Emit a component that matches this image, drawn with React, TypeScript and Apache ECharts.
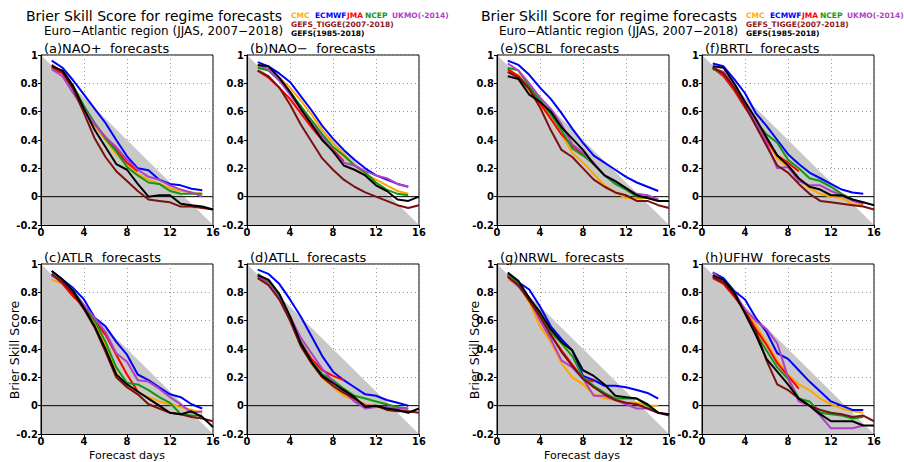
import React, { useEffect, useRef } from "react";
import * as echarts from "echarts";

const DAYS = [1, 2, 3, 4, 5, 6, 7, 8, 9, 10, 11, 12, 13, 14, 15, 16];
const X_TICKS = [0, 4, 8, 12, 16];
const Y_TICKS = [-0.2, 0, 0.2, 0.4, 0.6, 0.8, 1];
const MODELS = ["CMC", "ECMWF", "JMA", "NCEP", "UKMO(-2014)", "GEFS_TIGGE(2007-2018)", "GEFS(1985-2018)"];
const PANEL_TITLES = ["(a)NAO+  forecasts", "(b)NAO\u2212  forecasts", "(c)ATLR  forecasts", "(d)ATLL  forecasts", "(e)SCBL  forecasts", "(f)BRTL  forecasts", "(g)NRWL  forecasts", "(h)UFHW  forecasts"];
const MAIN_TITLE = "Brier Skill Score for regime forecasts";
const SUB_TITLE = "Euro\u2212Atlantic region (JJAS, 2007\u22122018)";
const Y_NAME = "Brier Skill Score";
const X_NAME = "Forecast days";

// (a) NAO+
const a_CMC = [0.92, 0.89, 0.77, 0.63, 0.50, 0.40, 0.30, 0.22, 0.16, 0.12, 0.09, 0.06, 0.04, 0.03, 0.02];
const a_ECMWF = [0.96, 0.91, 0.82, 0.72, 0.62, 0.52, 0.40, 0.285, 0.20, 0.186, 0.12, 0.09, 0.08, 0.056, 0.045];
const a_JMA = [0.91, 0.87, 0.76, 0.63, 0.51, 0.42, 0.33, 0.24, 0.18];
const a_NCEP = [0.92, 0.89, 0.78, 0.64, 0.52, 0.41, 0.32, 0.21, 0.15, 0.10, 0.09, 0.04, 0.02, 0.02, 0.02];
const a_UKMO = [0.90, 0.85, 0.73, 0.62, 0.51, 0.42, 0.35, 0.26, 0.19, 0.14, 0.12, 0.08, 0.05, 0.03, 0.00];
const a_TIGGE = [0.93, 0.88, 0.76, 0.59, 0.41, 0.28, 0.18, 0.11, 0.04, -0.02, -0.03, -0.04, -0.07, -0.07, -0.08, -0.09];
const a_GEFS = [0.92, 0.89, 0.78, 0.62, 0.47, 0.35, 0.23, 0.19, 0.09, 0.00, 0.01, 0.01, -0.05, -0.06, -0.07, -0.09];

// (b) NAO-
const b_CMC = [0.92, 0.90, 0.84, 0.77, 0.68, 0.58, 0.47, 0.38, 0.30, 0.22, 0.16, 0.12, 0.08, 0.04, 0.02];
const b_ECMWF = [0.95, 0.92, 0.87, 0.81, 0.71, 0.61, 0.50, 0.41, 0.33, 0.26, 0.20, 0.15, 0.12, 0.09, 0.07];
const b_JMA = [0.89, 0.84, 0.77, 0.69, 0.59, 0.49, 0.40, 0.33, 0.25];
const b_NCEP = [0.91, 0.89, 0.82, 0.74, 0.64, 0.54, 0.44, 0.35, 0.29, 0.22, 0.17, 0.10, 0.05, 0.02, 0.01];
const b_UKMO = [0.93, 0.90, 0.82, 0.72, 0.62, 0.52, 0.42, 0.32, 0.24, 0.22, 0.18, 0.15, 0.13, 0.09, 0.07];
const b_TIGGE = [0.89, 0.85, 0.77, 0.65, 0.51, 0.39, 0.27, 0.19, 0.12, 0.07, 0.03, 0.00, -0.03, -0.06, -0.08, -0.06];
const b_GEFS = [0.93, 0.92, 0.84, 0.74, 0.62, 0.51, 0.40, 0.32, 0.22, 0.19, 0.15, 0.08, 0.04, -0.02, -0.03, 0.00];

// (c) ATLR
const c_CMC = [0.89, 0.86, 0.79, 0.70, 0.59, 0.43, 0.23, 0.13, 0.09, 0.06, 0.03, 0.01, -0.01, -0.03, -0.05];
const c_ECMWF = [0.95, 0.89, 0.83, 0.75, 0.62, 0.56, 0.45, 0.36, 0.22, 0.18, 0.13, 0.08, 0.06, 0.01, -0.02];
const c_JMA = [0.93, 0.86, 0.77, 0.70, 0.60, 0.50, 0.36, 0.22, 0.10];
const c_NCEP = [0.92, 0.88, 0.81, 0.71, 0.60, 0.45, 0.27, 0.16, 0.15, 0.11, 0.06, 0.02, -0.06, -0.07, -0.07];
const c_UKMO = [0.92, 0.87, 0.80, 0.71, 0.62, 0.52, 0.37, 0.31, 0.18, 0.17, 0.12, 0.06, 0.01, -0.05, -0.04];
const c_TIGGE = [0.93, 0.87, 0.79, 0.68, 0.55, 0.38, 0.20, 0.13, 0.08, 0.01, -0.02, -0.05, -0.06, -0.08, -0.09, -0.11];
const c_GEFS = [0.95, 0.89, 0.81, 0.69, 0.56, 0.40, 0.22, 0.15, 0.10, 0.05, 0.00, -0.05, -0.06, -0.04, -0.08, -0.15];

// (d) ATLL
const d_CMC = [0.90, 0.86, 0.76, 0.60, 0.43, 0.30, 0.20, 0.13, 0.07, 0.04, 0.01, -0.01, -0.02, -0.03, -0.03];
const d_ECMWF = [0.96, 0.93, 0.86, 0.75, 0.63, 0.49, 0.35, 0.24, 0.18, 0.13, 0.08, 0.07, 0.04, 0.02, 0.00];
const d_JMA = [0.92, 0.87, 0.77, 0.62, 0.45, 0.33, 0.25, 0.21, 0.18];
const d_NCEP = [0.93, 0.88, 0.78, 0.63, 0.45, 0.31, 0.22, 0.18, 0.12, 0.07, 0.05, 0.03, 0.01, -0.01, -0.02];
const d_UKMO = [0.91, 0.86, 0.76, 0.63, 0.48, 0.37, 0.26, 0.17, 0.10, 0.03, -0.02, -0.01, -0.01, -0.02, -0.02];
const d_TIGGE = [0.90, 0.85, 0.75, 0.60, 0.42, 0.30, 0.20, 0.14, 0.09, 0.05, 0.00, 0.00, -0.03, -0.04, -0.04, -0.05];
const d_GEFS = [0.92, 0.89, 0.79, 0.63, 0.44, 0.31, 0.21, 0.16, 0.11, 0.06, -0.01, 0.00, -0.02, -0.03, -0.05, -0.02];

// (e) SCBL
const e_CMC = [0.89, 0.86, 0.75, 0.65, 0.55, 0.44, 0.31, 0.24, 0.16, 0.08, 0.03, -0.01, -0.01, -0.01, -0.02];
const e_ECMWF = [0.96, 0.93, 0.86, 0.77, 0.69, 0.59, 0.48, 0.38, 0.29, 0.24, 0.19, 0.14, 0.10, 0.07, 0.04];
const e_JMA = [0.90, 0.85, 0.77, 0.66, 0.55, 0.44, 0.36, 0.30, 0.23];
const e_NCEP = [0.91, 0.89, 0.78, 0.68, 0.58, 0.47, 0.34, 0.29, 0.23, 0.15, 0.09, 0.05, 0.00, -0.01, -0.02];
const e_UKMO = [0.94, 0.89, 0.80, 0.70, 0.62, 0.51, 0.37, 0.31, 0.24, 0.15, 0.11, 0.06, 0.02, 0.01, -0.02];
const e_TIGGE = [0.88, 0.84, 0.76, 0.63, 0.47, 0.33, 0.28, 0.20, 0.12, 0.07, 0.03, 0.01, -0.03, -0.03, -0.06, -0.08];
const e_GEFS = [0.85, 0.83, 0.72, 0.67, 0.60, 0.49, 0.41, 0.33, 0.23, 0.15, 0.11, 0.06, 0.01, -0.01, -0.03, -0.03];

// (f) BRTL
const f_CMC = [0.90, 0.88, 0.78, 0.65, 0.53, 0.40, 0.27, 0.21, 0.12, 0.06, 0.02, 0.00, -0.01, -0.05, -0.06];
const f_ECMWF = [0.94, 0.92, 0.83, 0.73, 0.59, 0.50, 0.40, 0.30, 0.23, 0.17, 0.13, 0.09, 0.05, 0.03, 0.02];
const f_JMA = [0.91, 0.85, 0.75, 0.63, 0.52, 0.40, 0.29, 0.24, 0.18];
const f_NCEP = [0.90, 0.87, 0.77, 0.66, 0.53, 0.44, 0.38, 0.26, 0.20, 0.13, 0.11, 0.07, 0.02, -0.02, -0.05];
const f_UKMO = [0.91, 0.88, 0.78, 0.66, 0.53, 0.38, 0.20, 0.21, 0.11, 0.08, 0.08, 0.04, 0.01, -0.03, -0.05];
const f_TIGGE = [0.91, 0.87, 0.77, 0.64, 0.50, 0.36, 0.22, 0.17, 0.09, 0.02, -0.03, -0.04, -0.05, -0.06, -0.07, -0.09];
const f_GEFS = [0.92, 0.91, 0.80, 0.67, 0.55, 0.42, 0.29, 0.22, 0.13, 0.07, 0.05, 0.01, 0.01, -0.02, -0.04, -0.06];

// (g) NRWL
const g_CMC = [0.89, 0.85, 0.73, 0.56, 0.45, 0.30, 0.20, 0.15, 0.08, 0.05, 0.04, 0.02, 0.02, 0.00, 0.00];
const g_ECMWF = [0.93, 0.87, 0.82, 0.70, 0.56, 0.47, 0.39, 0.21, 0.18, 0.14, 0.14, 0.13, 0.11, 0.09, 0.05];
const g_JMA = [0.92, 0.85, 0.75, 0.63, 0.50, 0.39, 0.29, 0.19, 0.17];
const g_NCEP = [0.92, 0.86, 0.76, 0.64, 0.52, 0.44, 0.35, 0.20, 0.14, 0.09, 0.05, 0.05, 0.05, 0.00, -0.05];
const g_UKMO = [0.91, 0.84, 0.75, 0.60, 0.47, 0.32, 0.27, 0.19, 0.07, 0.07, 0.04, 0.01, -0.02, -0.02, -0.05];
const g_TIGGE = [0.91, 0.85, 0.74, 0.63, 0.50, 0.38, 0.28, 0.19, 0.13, 0.08, 0.04, 0.02, 0.01, -0.02, -0.05, -0.07];
const g_GEFS = [0.94, 0.88, 0.76, 0.66, 0.54, 0.45, 0.39, 0.25, 0.21, 0.15, 0.07, 0.06, 0.05, 0.01, -0.05, -0.06];

// (h) UFHW
const h_CMC = [0.91, 0.88, 0.78, 0.68, 0.57, 0.45, 0.32, 0.22, 0.15, 0.11, 0.05, 0.01, -0.02, -0.04, -0.05];
const h_ECMWF = [0.94, 0.90, 0.81, 0.75, 0.62, 0.52, 0.37, 0.33, 0.25, 0.17, 0.10, 0.03, 0.00, -0.03, -0.03];
const h_JMA = [0.90, 0.86, 0.77, 0.67, 0.54, 0.43, 0.30, 0.21, 0.12];
const h_NCEP = [0.92, 0.89, 0.80, 0.66, 0.51, 0.39, 0.27, 0.19, 0.05, 0.03, -0.05, -0.06, -0.07, -0.09, -0.08];
const h_UKMO = [0.94, 0.88, 0.80, 0.68, 0.60, 0.54, 0.44, 0.20, 0.03, 0.00, -0.07, -0.16, -0.16, -0.16, -0.14];
const h_TIGGE = [0.91, 0.87, 0.78, 0.66, 0.53, 0.32, 0.15, 0.11, 0.05, 0.00, -0.03, -0.05, -0.06, -0.08, -0.07, -0.11];
const h_GEFS = [0.92, 0.89, 0.80, 0.65, 0.50, 0.33, 0.24, 0.15, 0.05, 0.00, -0.06, -0.11, -0.11, -0.11, -0.14, -0.14];

const PANEL_DATA = [
  [a_CMC, a_ECMWF, a_JMA, a_NCEP, a_UKMO, a_TIGGE, a_GEFS],
  [b_CMC, b_ECMWF, b_JMA, b_NCEP, b_UKMO, b_TIGGE, b_GEFS],
  [c_CMC, c_ECMWF, c_JMA, c_NCEP, c_UKMO, c_TIGGE, c_GEFS],
  [d_CMC, d_ECMWF, d_JMA, d_NCEP, d_UKMO, d_TIGGE, d_GEFS],
  [e_CMC, e_ECMWF, e_JMA, e_NCEP, e_UKMO, e_TIGGE, e_GEFS],
  [f_CMC, f_ECMWF, f_JMA, f_NCEP, f_UKMO, f_TIGGE, f_GEFS],
  [g_CMC, g_ECMWF, g_JMA, g_NCEP, g_UKMO, g_TIGGE, g_GEFS],
  [h_CMC, h_ECMWF, h_JMA, h_NCEP, h_UKMO, h_TIGGE, h_GEFS],
];

// styles / layout (not data)
const COLORS = ["#FFA500", "#0000FF", "#FF0000", "#119911", "#B040C8", "#7A1010", "#000000"];
const LEGEND_TEXT_COLORS = ["#FFB000", "#0000FF", "#FF0000", "#119911", "#B040C8", "#8B1A1A", "#000000"];
const COL_LEFT = [41, 247, 497, 702];
const ROW_TOP = [55, 264];
const GRID_W = 172;
const GRID_H = 170;
const TITLE_FONT = "'DejaVu Sans', sans-serif";
const TICK_FONT = "'Liberation Sans Narrow', 'DejaVu Sans Condensed', 'Liberation Sans', sans-serif";
const LEGEND_FONT = "'DejaVu Sans', sans-serif";

function panelPos(i: number) {
  const group = i < 4 ? 0 : 1;
  const k = i % 4;
  const col = group * 2 + (k % 2);
  const row = Math.floor(k / 2);
  return { left: COL_LEFT[col], top: ROW_TOP[row] };
}

function txt(x: number, y: number, text: string, size: number, opts: any = {}) {
  return {
    type: "text", x, y, rotation: opts.rotation || 0,
    style: {
      text, fill: opts.fill || "#000", fontSize: size, fontFamily: opts.family || TITLE_FONT,
      fontWeight: opts.weight || "normal", verticalAlign: "middle", align: opts.align || "left",
    },
  };
}

export default function App() {
  const ref = useRef<HTMLDivElement>(null);
  useEffect(() => {
    if (!ref.current) return;
    const chart = echarts.init(ref.current, undefined, { renderer: "svg" });
    const grid: any[] = [];
    const xAxis: any[] = [];
    const yAxis: any[] = [];
    const series: any[] = [];
    const graphic: any[] = [];

    PANEL_DATA.forEach((models, i) => {
      const p = panelPos(i);
      grid.push({
        left: p.left, top: p.top, width: GRID_W, height: GRID_H,
        show: true, borderColor: "#000", borderWidth: 1, backgroundColor: "transparent",
      });
      const baseX = {
        gridIndex: i, type: "value", min: X_TICKS[0], max: X_TICKS[X_TICKS.length - 1], interval: 4,
      };
      const baseY = {
        gridIndex: i, type: "value", min: Y_TICKS[0], max: Y_TICKS[Y_TICKS.length - 1], interval: 0.2,
      };
      xAxis.push({
        ...baseX, position: "bottom", z: 5,
        axisLine: { show: true, onZero: false, lineStyle: { color: "#000", width: 1 } },
        axisTick: { show: true, length: 3, lineStyle: { color: "#000" } },
        axisLabel: { color: "#000", fontSize: 11, fontWeight: "bold", fontFamily: TICK_FONT, margin: 2 },
        splitLine: { show: false },
      });
      yAxis.push({
        ...baseY, position: "left", z: 5,
        axisLine: { show: true, onZero: false, lineStyle: { color: "#000", width: 1 } },
        axisTick: { show: true, length: 3, lineStyle: { color: "#000" } },
        axisLabel: { color: "#000", fontSize: 11, fontWeight: "bold", fontFamily: TICK_FONT, margin: 3 },
        splitLine: { show: false },
      });
      xAxis.push({
        ...baseX, position: "bottom", z: 0,
        axisLine: { show: false }, axisTick: { show: false }, axisLabel: { show: false },
        splitLine: { show: true, lineStyle: { color: "#9a9a9a", width: 1, type: [1, 3] } },
      });
      yAxis.push({
        ...baseY, position: "left", z: 0,
        axisLine: { show: false }, axisTick: { show: false }, axisLabel: { show: false },
        splitLine: { show: true, lineStyle: { color: "#9a9a9a", width: 1, type: [1, 3] } },
      });
      const xi = i * 2;
      const yi = i * 2;
      series.push({
        type: "line", xAxisIndex: xi, yAxisIndex: yi, silent: true, symbol: "none",
        data: [[X_TICKS[0], Y_TICKS[Y_TICKS.length - 1]], [X_TICKS[X_TICKS.length - 1], Y_TICKS[0]]],
        lineStyle: { width: 0 },
        areaStyle: { color: "#C8C8C8", opacity: 1, origin: "start" },
        z: 1,
      });
      series.push({
        type: "line", xAxisIndex: xi, yAxisIndex: yi, silent: true, symbol: "none",
        data: [[X_TICKS[0], 0], [X_TICKS[X_TICKS.length - 1], 0]],
        lineStyle: { color: "#000", width: 1 },
        z: 2,
      });
      models.forEach((vals, m) => {
        series.push({
          name: MODELS[m], type: "line", xAxisIndex: xi, yAxisIndex: yi, symbol: "none",
          data: vals.map((v, d) => [DAYS[d], v]),
          lineStyle: { color: COLORS[m], width: 2 },
          itemStyle: { color: COLORS[m] },
          z: 3,
        });
      });
      graphic.push(txt(p.left + 3, p.top - 7, PANEL_TITLES[i], 13));
    });

    const groupBase = [
      { title: 26, sub: 44, legend: 291, yName: 14, xName: 127 },
      { title: 481, sub: 499, legend: 746, yName: 474, xName: 582 },
    ];
    const legendOffsets = [0, 24, 56, 74, 101];
    groupBase.forEach((g) => {
      graphic.push(txt(g.title, 16, MAIN_TITLE, 14));
      graphic.push(txt(g.sub, 31, SUB_TITLE, 12));
      for (let m = 0; m < 5; m++) {
        graphic.push(txt(g.legend + legendOffsets[m], 15, MODELS[m], 7.5, { fill: LEGEND_TEXT_COLORS[m], family: LEGEND_FONT, weight: "bold" }));
      }
      graphic.push(txt(g.legend, 24, MODELS[5], 7.5, { fill: LEGEND_TEXT_COLORS[5], family: LEGEND_FONT, weight: "bold" }));
      graphic.push(txt(g.legend, 33, MODELS[6], 7.5, { fill: LEGEND_TEXT_COLORS[6], family: LEGEND_FONT, weight: "bold" }));
      graphic.push(txt(g.yName, 350, Y_NAME, 12.5, { rotation: Math.PI / 2, align: "center" }));
      graphic.push(txt(g.xName, 455.5, X_NAME, 11, { align: "center" }));
    });

    chart.setOption({
      animation: false,
      backgroundColor: "#fff",
      grid, xAxis, yAxis, series, graphic,
    });
    return () => chart.dispose();
  }, []);
  return <div ref={ref} style={{ position: "fixed", left: 0, top: 0, width: 904, height: 462 }} />;
}
